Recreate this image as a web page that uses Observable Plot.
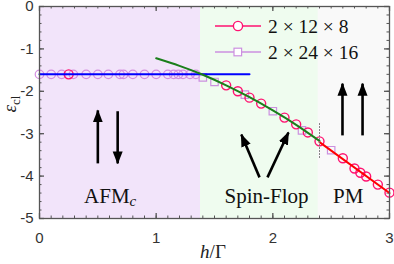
<!DOCTYPE html>
<html><head><meta charset="utf-8">
<script src="https://cdn.jsdelivr.net/npm/d3@7"></script>
<script src="https://cdn.jsdelivr.net/npm/@observablehq/plot@0.6"></script>
<style>body{margin:0;background:#fff}#c{width:394px;height:264px}</style>
</head><body><div id="c"></div><script>
// phase regions
const regionX1 = [0, 1.38, 2.39];
const regionX2 = [1.38, 2.39, 3];
const regionFill = ["#f2e4fa", "#effcef", "#f9f9f9"];
// 2x12x8 (red circles)
const s12X = [0.25, 1.6, 1.7, 1.8, 1.9, 2.1, 2.2, 2.3, 2.4, 2.6, 2.7, 2.75, 2.8, 2.9, 3.0];
const s12Y = [-1.6, -1.86, -2.0, -2.15, -2.29, -2.62, -2.78, -2.97, -3.18, -3.58, -3.82, -3.92, -4.01, -4.2, -4.39];
// 2x24x16 (violet squares)
const s24X = [1.4, 1.5, 1.76, 2.0, 2.25, 2.5];
const s24Y = [-1.67, -1.78, -2.08, -2.47, -2.92, -3.39];
// markers on the AFM plateau
const flatX = [0, 0.1, 0.19, 0.29, 0.4, 0.5, 0.59, 0.69, 0.72, 0.8, 0.9, 1.0, 1.1, 1.15, 1.19, 1.23, 1.29, 1.34];
const flatY = [-1.6, -1.6, -1.6, -1.6, -1.6, -1.6, -1.6, -1.6, -1.6, -1.6, -1.6, -1.6, -1.6, -1.6, -1.6, -1.6, -1.6, -1.6];
// analytic curves
const afmX = [0, 1.8], afmY = [-1.6, -1.6];
const sfX = [1.0, 1.2, 1.4, 1.6, 1.8, 2.0, 2.2, 2.4];
const sfY = [-1.22, -1.40, -1.61, -1.86, -2.14, -2.45, -2.79, -3.17];
const pmX = [2.4, 3.0], pmY = [-3.2, -4.4];
// dotted transition marker
const transX = [2.4, 2.4], transY = [-2.76, -3.58];
// arrows (data coords): x1,y1 -> x2,y2
const arrX1 = [0.5, 0.67, 1.886, 1.954, 2.597, 2.769];
const arrY1 = [-3.70, -2.47, -4.03, -4.03, -3.04, -3.04];
const arrX2 = [0.5, 0.67, 1.73, 2.134, 2.597, 2.769];
const arrY2 = [-2.45, -3.70, -3.02, -2.97, -1.82, -1.82];
// labels
const labText = ["AFM", "Spin-Flop", "PM"];
const labX = [0.61, 1.95, 2.65];
const labY = [-4.65, -4.65, -4.65];
// ticks
const xMajor = [0, 1, 2, 3];
const yMajor = [-5, -4, -3, -2, -1, 0];
const xMinor = d3.range(0, 3.0001, 0.1);
const yMinor = d3.range(-5, 0.0001, 0.2);
const seriesNames = ["2 × 12 × 8", "2 × 24 × 16"];

const W = 394, H = 264, mL = 39, mR = 5, mT = 6, mB = 46;
const pw = W - mL - mR, ph = H - mT - mB;
const idx = a => a.map((_, i) => i);
const axisCol = "#555";

const plot = Plot.plot({
  width: W, height: H,
  marginLeft: mL, marginRight: mR, marginTop: mT, marginBottom: mB,
  x: {domain: [0, 3]},
  y: {domain: [-5, 0]},
  style: {fontFamily: "Liberation Sans, Arial, sans-serif", fontSize: "15px", background: "white", color: "#333"},
  marks: [
    Plot.rect(idx(regionX1), {x1: i => regionX1[i], x2: i => regionX2[i], y1: -5, y2: 0, fill: i => regionFill[i]}),
    // minor ticks
    Plot.tickX(xMinor, {x: d => d, insetTop: ph - 2.5, stroke: axisCol}),
    Plot.tickX(xMinor, {x: d => d, insetBottom: ph - 2.5, stroke: axisCol}),
    Plot.tickY(yMinor, {y: d => d, insetRight: pw - 2.5, stroke: axisCol}),
    Plot.tickY(yMinor, {y: d => d, insetLeft: pw - 2.5, stroke: axisCol}),
    // major ticks
    Plot.tickX(xMajor, {x: d => d, insetTop: ph - 5, stroke: axisCol, strokeWidth: 1.3}),
    Plot.tickX(xMajor, {x: d => d, insetBottom: ph - 5, stroke: axisCol, strokeWidth: 1.3}),
    Plot.tickY(yMajor, {y: d => d, insetRight: pw - 5, stroke: axisCol, strokeWidth: 1.3}),
    Plot.tickY(yMajor, {y: d => d, insetLeft: pw - 5, stroke: axisCol, strokeWidth: 1.3}),
    Plot.axisX({ticks: xMajor, tickSize: 0, tickPadding: 14, tickFormat: d => String(d), label: null, fill: "#333"}),
    Plot.axisY({ticks: yMajor, tickSize: 0, tickPadding: 6, tickFormat: d => String(d), label: null, fill: "#333"}),
    // markers
    Plot.dot(idx(flatX), {x: i => flatX[i], y: i => flatY[i], r: 4.3, stroke: "#d48ee0", strokeWidth: 1.2, fill: "none"}),
    Plot.dot(idx(s24X), {x: i => s24X[i], y: i => s24Y[i], symbol: "square", r: 4.2, stroke: "#cc90e0", strokeWidth: 1.2, fill: "none"}),
    Plot.dot(idx(s12X), {x: i => s12X[i], y: i => s12Y[i], r: 4.5, stroke: "#ff1270", strokeWidth: 1.4, fill: "none"}),
    // lines
    Plot.line(idx(afmX), {x: i => afmX[i], y: i => afmY[i], stroke: "#0000ff", strokeWidth: 2}),
    Plot.line(idx(sfX), {x: i => sfX[i], y: i => sfY[i], stroke: "#1a7f1a", strokeWidth: 2, curve: "natural"}),
    Plot.line(idx(pmX), {x: i => pmX[i], y: i => pmY[i], stroke: "#ff0000", strokeWidth: 2}),
    Plot.line(idx(transX), {x: i => transX[i], y: i => transY[i], stroke: "#777", strokeWidth: 1, strokeDasharray: "1,2"}),
    // arrows
    Plot.link(idx(arrX1), {x1: i => arrX1[i], y1: i => arrY1[i], x2: i => arrX2[i], y2: i => arrY2[i], stroke: "black", strokeWidth: 2.6}),
    Plot.frame({stroke: axisCol, strokeWidth: 1.3})
  ]
});
document.getElementById("c").appendChild(plot);

const svg = d3.select(plot);
const sx = plot.scale("x"), sy = plot.scale("y");
// filled arrowheads
const defs = svg.append("defs");
defs.append("marker").attr("id", "head").attr("markerUnits", "userSpaceOnUse")
  .attr("viewBox", "0 -6 13 12").attr("refX", 12).attr("refY", 0)
  .attr("markerWidth", 13).attr("markerHeight", 12).attr("orient", "auto")
  .append("path").attr("d", "M0,-5L13,0L0,5Z").attr("fill", "black");
svg.selectAll('g[aria-label="link"] path').attr("marker-end", "url(#head)");

// region labels
const serif = "Liberation Serif, 'Times New Roman', serif";
labText.forEach((t, i) => {
  const tx = svg.append("text").attr("x", sx.apply(labX[i])).attr("y", sy.apply(labY[i]))
    .attr("text-anchor", "middle").attr("font-family", serif).attr("font-size", 21).attr("fill", "#111");
  tx.append("tspan").text(t);
  if (i === 0) tx.append("tspan").attr("font-style", "italic").attr("font-size", 15).attr("dy", 3).text("c");
});

// legend
const legY = [26, 52];
const legCols = ["#ff1270", "#cc90e0"];
[0, 1].forEach(k => {
  const g = svg.append("g");
  g.append("line").attr("x1", 215).attr("x2", 261).attr("y1", legY[k]).attr("y2", legY[k])
    .attr("stroke", legCols[k]).attr("stroke-width", 1.6);
  if (k === 0) g.append("circle").attr("cx", 238).attr("cy", legY[k]).attr("r", 4.6)
    .attr("fill", "white").attr("stroke", legCols[k]).attr("stroke-width", 1.4);
  else g.append("rect").attr("x", 234).attr("y", legY[k] - 3.8).attr("width", 7.6).attr("height", 7.6)
    .attr("fill", "white").attr("stroke", legCols[k]).attr("stroke-width", 1.2);
  g.append("text").attr("x", 268).attr("y", legY[k] + 6.5).attr("text-anchor", "start")
    .attr("font-family", serif).attr("font-size", 19.5).attr("fill", "#111").text(seriesNames[k]);
});

// axis titles
const yl = svg.append("text").attr("transform", "translate(16,104) rotate(-90)")
  .attr("text-anchor", "middle").attr("font-family", serif).attr("fill", "#222");
yl.append("tspan").attr("font-style", "italic").attr("font-size", 19).text("ε");
yl.append("tspan").attr("font-size", 13).attr("dy", 4).text("cl");

const xl = svg.append("text").attr("x", 213).attr("y", 258).attr("text-anchor", "middle")
  .attr("font-family", serif).attr("font-size", 19).attr("fill", "#222");
xl.append("tspan").attr("font-style", "italic").text("h");
xl.append("tspan").text("/Γ");
</script></body></html>
